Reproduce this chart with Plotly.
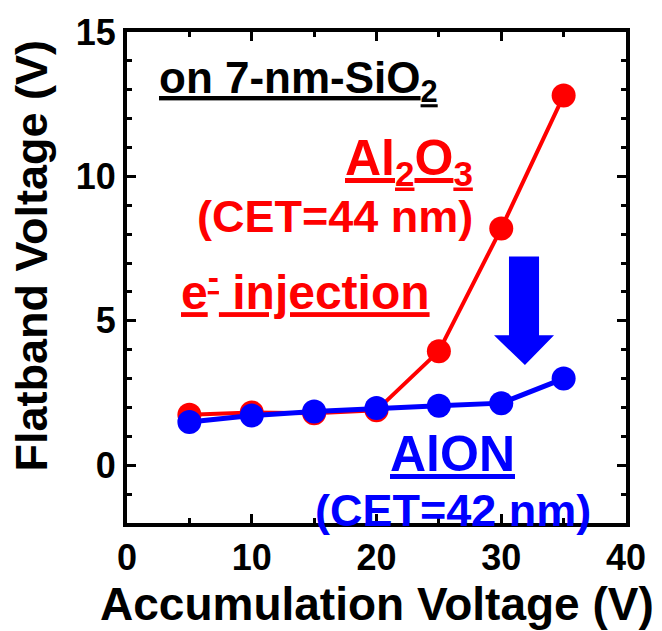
import plotly.graph_objects as go

# Accumulation voltage (V) and resulting flatband voltage (V)
acc_voltage = [5, 10, 15, 20, 25, 30, 35]
vfb_al2o3 = [1.75, 1.83, 1.80, 1.90, 3.95, 8.20, 12.80]
vfb_alon = [1.50, 1.72, 1.86, 1.98, 2.06, 2.15, 3.00]

x_ticks = [0, 10, 20, 30, 40]
y_ticks = [0, 5, 10, 15]

RED = "#FF0000"
BLUE = "#0000FF"
FONT = "Liberation Sans, Arial, sans-serif"

fig = go.Figure()
fig.add_trace(go.Scatter(
    x=acc_voltage, y=vfb_al2o3, mode="lines+markers", name="Al2O3",
    line=dict(color=RED, width=4), marker=dict(color=RED, size=24),
))
fig.add_trace(go.Scatter(
    x=acc_voltage, y=vfb_alon, mode="lines+markers", name="AlON",
    line=dict(color=BLUE, width=5), marker=dict(color=BLUE, size=24),
))

# Downward block arrow showing the reduced shift
shaft_l, shaft_r, shaft_top, head_base = 30.62, 33.03, 7.23, 4.50
head_l, head_r, tip_x, tip_y = 29.42, 34.23, 31.90, 3.47
arrow_path = (
    f"M {shaft_l} {shaft_top} L {shaft_r} {shaft_top} L {shaft_r} {head_base} "
    f"L {head_r} {head_base} L {tip_x} {tip_y} L {head_l} {head_base} "
    f"L {shaft_l} {head_base} Z"
)
fig.add_shape(type="path", path=arrow_path, xref="x", yref="y",
              fillcolor=BLUE, line=dict(color=BLUE, width=0))

def label(text, x, y, color, size, xanchor="center"):
    fig.add_annotation(x=x, y=y, xref="x", yref="y", text=text,
                       showarrow=False, xanchor=xanchor, yanchor="middle",
                       font=dict(family=FONT, size=size, color=color))

label("<b><u>on 7-nm-SiO<sub>2</sub></u></b>", 13.75, 13.3, "black", 44)
label("<b><u>Al<sub>2</sub>O<sub>3</sub></u></b>", 27.9, 10.5, RED, 50, "right")
label("<b>(CET=44 nm)</b>", 27.9, 8.6, RED, 45, "right")
label("<b><u>e<sup>-</sup> injection</u></b>", 14.3, 6.1, RED, 48)
label("<b><u>AlON</u></b>", 26.1, 0.4, BLUE, 50)
label("<b>(CET=42 nm)</b>", 26.1, -1.55, BLUE, 45)

# Axis titles placed as paper-referenced text
fig.add_annotation(x=0.5, y=-0.165, xref="paper", yref="paper",
                   text="<b>Accumulation Voltage (V)</b>", showarrow=False,
                   xanchor="center", yanchor="middle",
                   font=dict(family=FONT, size=46, color="black"))
fig.add_annotation(x=-0.192, y=0.545, xref="paper", yref="paper",
                   text="<b>Flatband Voltage (V)</b>", showarrow=False,
                   textangle=-90, xanchor="center", yanchor="middle",
                   font=dict(family=FONT, size=45, color="black"))

axis_common = dict(
    showline=True, linecolor="black", linewidth=4, mirror="ticks",
    ticks="inside", ticklen=9, tickwidth=3, tickcolor="black",
    showgrid=False, zeroline=False,
    tickfont=dict(family=FONT, size=36, color="black", weight="bold"),
)

fig.update_xaxes(
    range=[0, 40], tickvals=x_ticks, ticktext=[str(v) for v in x_ticks],
    minor=dict(ticks="inside", ticklen=5, tickwidth=3, dtick=5, tick0=0,
               tickcolor="black", showgrid=False),
    **axis_common,
)
fig.update_yaxes(
    range=[-2, 15], tickvals=y_ticks, ticktext=[str(v) for v in y_ticks],
    minor=dict(ticks="inside", ticklen=5, tickwidth=3, dtick=1, tick0=0,
               tickcolor="black", showgrid=False),
    **axis_common,
)

fig.update_layout(
    width=662, height=631,
    margin=dict(l=127, r=36, t=26, b=108),
    paper_bgcolor="white", plot_bgcolor="white",
    showlegend=False,
)

fig.write_html("out.html")
